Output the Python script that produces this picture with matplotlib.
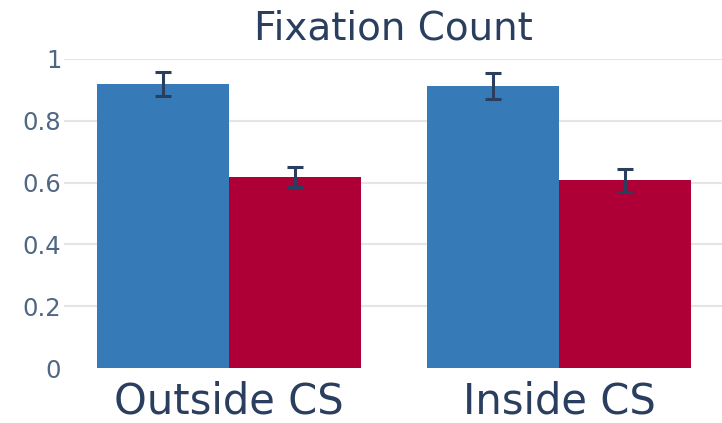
import matplotlib.pyplot as plt
import numpy as np

categories = ["Outside CS", "Inside CS"]
series_a = [0.919, 0.913]
series_a_err = [0.039, 0.042]
series_b = [0.618, 0.608]
series_b_err = [0.032, 0.037]
yticks = [0, 0.2, 0.4, 0.6, 0.8, 1]
ytick_labels = ["0", "0.2", "0.4", "0.6", "0.8", "1"]

plt.rcParams['font.family'] = ['DejaVu Sans']
txt = '#2a3f5f'

fig = plt.figure(figsize=(7.22, 4.23), dpi=100)
ax = fig.add_axes([64 / 722, 1 - 368 / 423, 660 / 722, 309 / 423])

x = np.arange(len(categories))
w = 0.4
ax.bar(x - w / 2, series_a, w, color='#367ab8', zorder=2)
ax.bar(x + w / 2, series_b, w, color='#ae0036', zorder=2)
ax.errorbar(x - w / 2, series_a, yerr=series_a_err, fmt='none', ecolor=txt,
            elinewidth=2.2, capsize=6, capthick=2.2, zorder=3)
ax.errorbar(x + w / 2, series_b, yerr=series_b_err, fmt='none', ecolor=txt,
            elinewidth=2.2, capsize=6, capthick=2.2, zorder=3)

ax.set_xlim(-0.5, 1.5)
ax.set_ylim(0, 1)
ax.set_yticks(yticks)
ax.set_yticklabels(ytick_labels, fontsize=17.5, color='#506784')
ax.set_xticks(x)
ax.set_xticklabels(categories, fontsize=30, color=txt)
ax.tick_params(length=0)
ax.tick_params(axis='y', pad=2)
ax.tick_params(axis='x', pad=9)
ax.grid(axis='y', color='#e5e5e5', linewidth=1.5, zorder=0)
# no gridline along the baseline
ax.yaxis.get_gridlines()[0].set_visible(False)
for s in ax.spines.values():
    s.set_visible(False)

fig.text(393 / 722, 1 - 39 / 423, "Fixation Count", fontsize=28, color=txt,
         ha='center', va='baseline')

fig.savefig('out.png', dpi=100)
